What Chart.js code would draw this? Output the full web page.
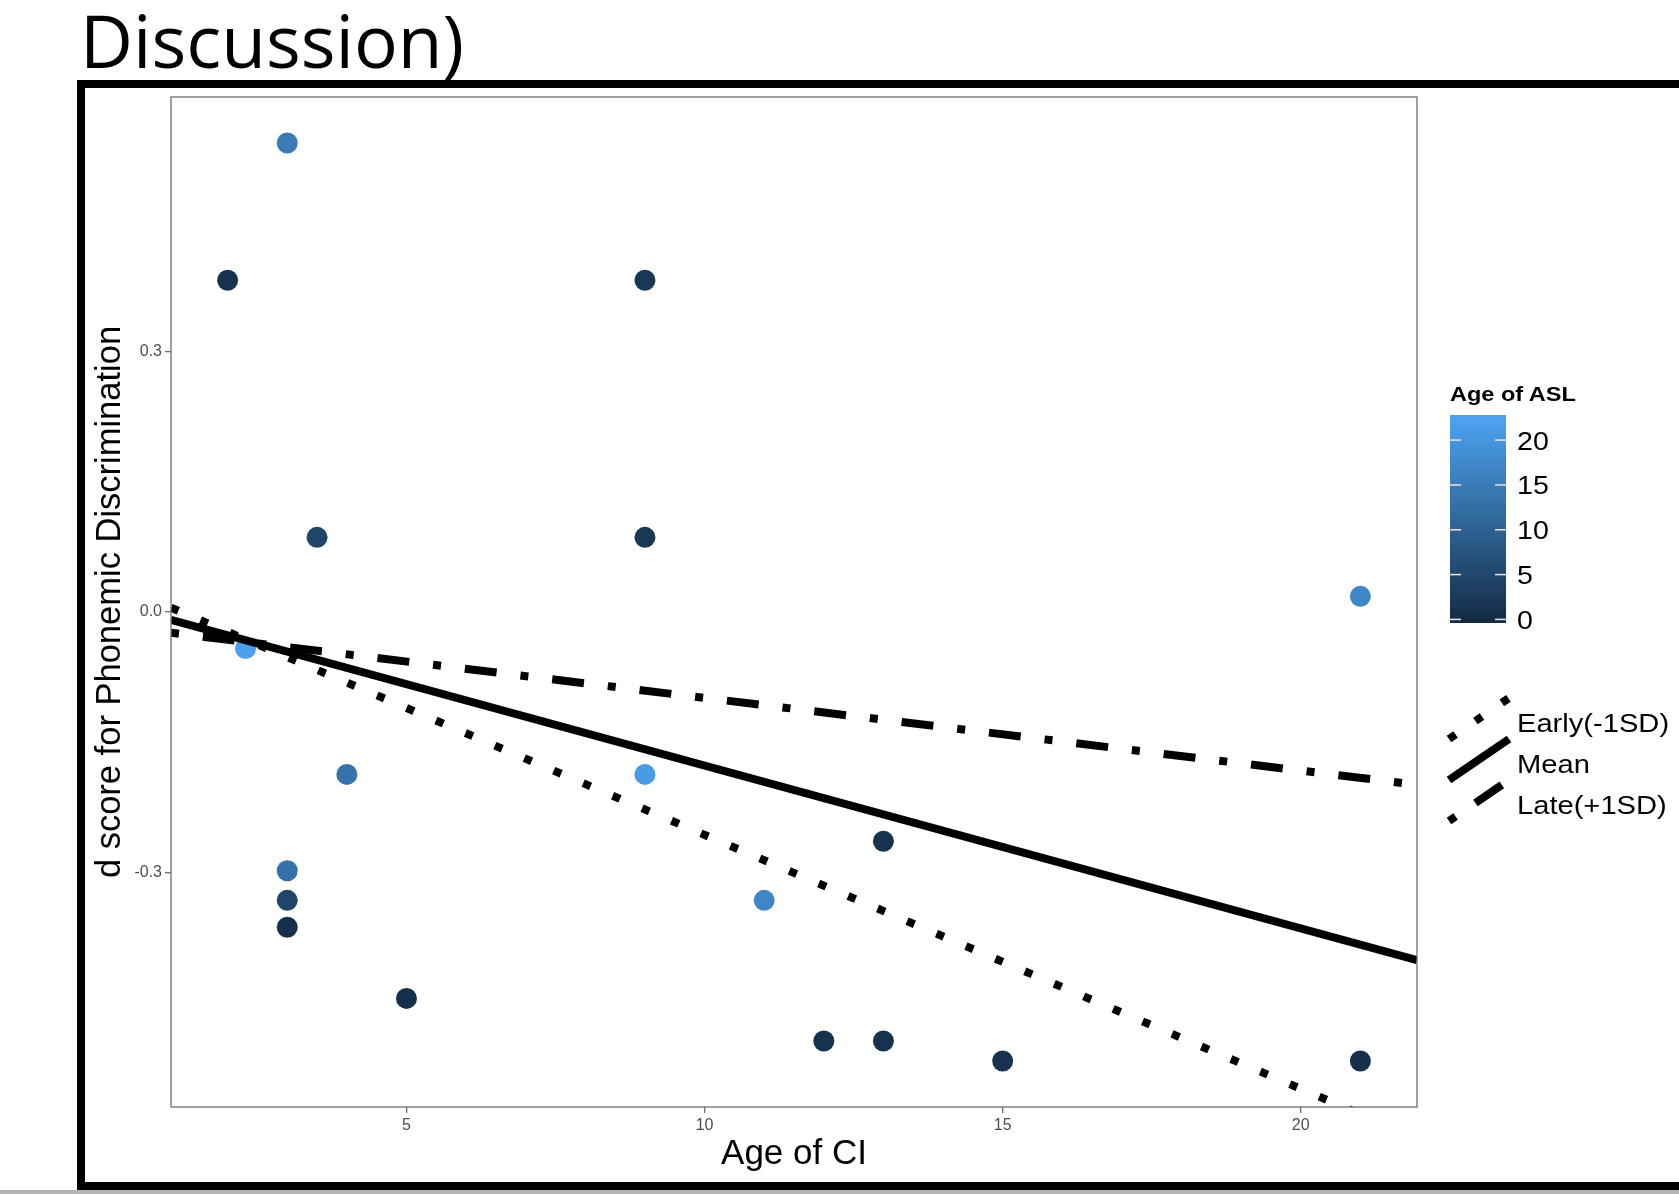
<!DOCTYPE html>
<html>
<head>
<meta charset="utf-8">
<script src="https://cdn.jsdelivr.net/npm/chart.js@4.4.1/dist/chart.umd.min.js"></script>
<style>
    html, body { margin: 0; padding: 0; background: #fff; }
    body { width: 1679px; height: 1194px; position: relative; overflow: hidden; font-family: "Liberation Sans", Arial, sans-serif; }
    #slideTitle { position: absolute; left: 80px; top: 3px; font-family: "Open Sans", sans-serif; font-size: 73px; line-height: 1; color: #000; white-space: nowrap; }
    #frame { position: absolute; left: 77px; top: 80px; width: 1700px; height: 1094px; border: 8px solid #000; border-right: none; }
    #bottomStrip { position: absolute; left: 0; top: 1190px; width: 1679px; height: 4px; background: #b4b4b4; }
    #chartBox { position: absolute; left: 0; top: 0; width: 1679px; height: 1194px; }
    #legend { position: absolute; left: 0; top: 0; width: 1679px; height: 1194px; pointer-events: none; }
</style>
</head>
<body>
<div id="slideTitle">Discussion)</div>
<div id="frame"></div>
<div id="bottomStrip"></div>
<div id="chartBox"><canvas id="myChart" width="1679" height="1194"></canvas></div>
<svg id="legend" xmlns="http://www.w3.org/2000/svg"></svg>

<script>
// points: age of CI, d score, age of ASL
const ageCI  = [3, 2, 9, 3.5, 9, 21, 2.3, 4, 9, 13, 3, 3, 3, 11, 5, 12, 13, 15, 21];
const dScore = [0.540, 0.382, 0.382, 0.086, 0.086, 0.018, -0.042, -0.187, -0.187, -0.264,
                -0.298, -0.332, -0.363, -0.332, -0.445, -0.494, -0.494, -0.517, -0.517];
const ageASL = [15, 1, 2, 4.5, 2, 17, 22, 13.5, 21, 1, 13, 4.5, 0.5, 17, 0.5, 1, 1, 1, 0.5];

// fitted lines (ends of the panel)
const lineX     = [1.05, 21.95];
const earlyFit  = [0.005, -0.606];
const meanFit   = [-0.009, -0.401];
const lateFit   = [-0.024, -0.199];

const xTicks = [5, 10, 15, 20];
const yTicks = [-0.3, 0, 0.3];
const aslTicks = [0, 5, 10, 15, 20];
const aslRange = [-0.4, 22.8];

const lowRGB = [19, 43, 67];
const highRGB = [78, 164, 242];

function aslColor(v) {
    let t = (v - aslRange[0]) / (aslRange[1] - aslRange[0]);
    t = Math.max(0, Math.min(1, t));
    const c = lowRGB.map((lo, i) => Math.round(lo + (highRGB[i] - lo) * t));
    return `rgb(${c[0]}, ${c[1]}, ${c[2]})`;
}

function toXY(xs, ys) {
    return xs.map((x, i) => ({ x: x, y: ys[i] }));
}

const fontFamily = '"Liberation Sans", Arial, sans-serif';

const panelBorder = {
    id: 'panelBorder',
    afterDatasetsDraw(chart) {
        const { ctx, chartArea: a } = chart;
        ctx.save();
        ctx.strokeStyle = '#6e6e6e';
        ctx.lineWidth = 1.3;
        ctx.strokeRect(a.left, a.top, a.right - a.left, a.bottom - a.top);
        ctx.restore();
    }
};

const lineStyle = {
    showLine: true,
    pointRadius: 0,
    pointHoverRadius: 0,
    borderColor: '#000',
    borderWidth: 8,
    borderCapStyle: 'butt',
    clip: 0,
    fill: false,
};

const datasets = [
    Object.assign({ label: 'Early(-1SD)', data: toXY(lineX, earlyFit), borderDash: [8, 24] }, lineStyle),
    Object.assign({ label: 'Mean', data: toXY(lineX, meanFit) }, lineStyle),
    Object.assign({ label: 'Late(+1SD)', data: toXY(lineX, lateFit), borderDash: [8, 24, 32, 24] }, lineStyle),
    {
        label: 'points',
        data: toXY(ageCI, dScore),
        pointRadius: 10.5,
        pointHoverRadius: 10.5,
        pointBorderWidth: 0,
        pointBackgroundColor: ageASL.map(aslColor),
        showLine: false,
    },
];

const ctx = document.getElementById('myChart').getContext('2d');

const config = {
    type: 'scatter',
    data: { datasets: datasets },
    options: {
        responsive: false,
        animation: false,
        layout: { padding: { left: 0, top: 97, right: 262, bottom: 0 } },
        plugins: {
            legend: { display: false },
            tooltip: { enabled: false },
        },
        scales: {
            x: {
                type: 'linear',
                min: 1.05,
                max: 21.95,
                afterBuildTicks: (axis) => { axis.ticks = xTicks.map(v => ({ value: v })); },
                afterFit: (axis) => { axis.height = 87; },
                grid: { drawOnChartArea: false, tickLength: 6, color: '#6e6e6e', lineWidth: 1.3 },
                border: { display: false },
                ticks: {
                    color: '#4d4d4d',
                    font: { size: 16, family: fontFamily },
                    padding: 3,
                    maxRotation: 0,
                    autoSkip: false,
                },
                title: {
                    display: true,
                    text: 'Age of CI',
                    color: '#000',
                    font: { size: 35, family: fontFamily },
                    padding: { top: 0, bottom: 19 },
                },
            },
            y: {
                type: 'linear',
                min: -0.570,
                max: 0.593,
                afterBuildTicks: (axis) => { axis.ticks = yTicks.map(v => ({ value: v })); },
                afterFit: (axis) => { axis.width = 171; },
                grid: { drawOnChartArea: false, tickLength: 6, color: '#6e6e6e', lineWidth: 1.3 },
                border: { display: false },
                ticks: {
                    color: '#4d4d4d',
                    font: { size: 16, family: fontFamily },
                    padding: 3,
                    callback: (v) => v.toFixed(1),
                },
                title: {
                    display: true,
                    text: 'd score for Phonemic Discrimination',
                    color: '#000',
                    font: { size: 34.5, family: fontFamily },
                    padding: { top: 90, bottom: 0 },
                },
            },
        },
    },
    plugins: [panelBorder],
};

const chart = new Chart(ctx, config);

// legends (colour bar + line keys)
const NS = 'http://www.w3.org/2000/svg';
const svg = document.getElementById('legend');

function el(name, attrs, text) {
    const node = document.createElementNS(NS, name);
    for (const k in attrs) node.setAttribute(k, attrs[k]);
    if (text !== undefined) node.textContent = text;
    svg.appendChild(node);
    return node;
}

// legend text in the picture is a little wider than plain Arial
function widen(node, k) {
    node.setAttribute('textLength', node.getComputedTextLength() * k);
    node.setAttribute('lengthAdjust', 'spacingAndGlyphs');
}

const defs = el('defs', {});
const grad = document.createElementNS(NS, 'linearGradient');
grad.setAttribute('id', 'aslGrad');
grad.setAttribute('x1', '0'); grad.setAttribute('y1', '1');
grad.setAttribute('x2', '0'); grad.setAttribute('y2', '0');
for (let i = 0; i <= 10; i++) {
    const stop = document.createElementNS(NS, 'stop');
    stop.setAttribute('offset', i / 10);
    stop.setAttribute('stop-color', aslColor(aslRange[0] + (aslRange[1] - aslRange[0]) * i / 10));
    grad.appendChild(stop);
}
defs.appendChild(grad);

const bar = { left: 1450, top: 415, width: 56, height: 208 };
const aslY = (v) => bar.top + bar.height - (v - aslRange[0]) / (aslRange[1] - aslRange[0]) * bar.height;

const legTitle = el('text', { x: 1450, y: 401, 'font-family': fontFamily, 'font-size': 21, 'font-weight': 'bold', fill: '#000' }, 'Age of ASL');
widen(legTitle, 1.12);
el('rect', { x: bar.left, y: bar.top, width: bar.width, height: bar.height, fill: 'url(#aslGrad)' });
for (const v of aslTicks) {
    const y = aslY(v);
    el('line', { x1: bar.left, x2: bar.left + 11, y1: y, y2: y, stroke: '#e6e6e6', 'stroke-width': 1.5 });
    el('line', { x1: bar.left + bar.width - 11, x2: bar.left + bar.width, y1: y, y2: y, stroke: '#e6e6e6', 'stroke-width': 1.5 });
    const t = el('text', { x: 1517, y: y + 9.5, 'font-family': fontFamily, 'font-size': 26, fill: '#000' }, String(v));
    widen(t, 1.1);
}

const keys = [
    { label: 'Early(-1SD)', dash: '8 24' },
    { label: 'Mean', dash: 'none' },
    { label: 'Late(+1SD)', dash: '8 24 32 24' },
];
keys.forEach((k, i) => {
    const top = 698 + i * 41;
    el('line', { x1: 1449, y1: top + 41, x2: 1509, y2: top, stroke: '#000', 'stroke-width': 8, 'stroke-dasharray': k.dash });
    const t = el('text', { x: 1517, y: top + 34, 'font-family': fontFamily, 'font-size': 26, fill: '#000' }, k.label);
    widen(t, 1.12);
});
</script>
</body>
</html>
